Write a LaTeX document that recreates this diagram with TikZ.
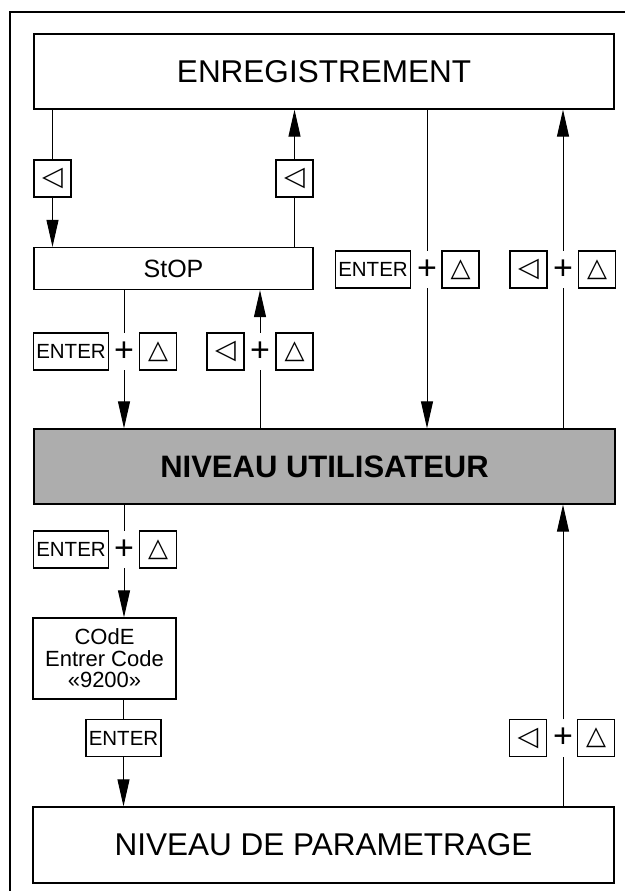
\documentclass[tikz,border=0pt]{standalone}
\usepackage{fontspec}
\setmainfont{Liberation Sans}
\newfontfamily\symfont{DejaVu Sans}
\usetikzlibrary{arrows.meta}
\begin{document}
\begin{tikzpicture}[x=1pt,y=-1pt,
  box/.style={draw, line width=1.3pt, inner sep=0pt},
  big/.style={font=\fontsize{31.5}{33}\selectfont},
  key/.style={draw, line width=1.1pt, minimum height=37pt, minimum width=37pt, inner sep=0pt},
  enterkey/.style={key, minimum width=75pt, font=\fontsize{20.5}{20}\selectfont},
  lkey/.style={key, font=\symfont\fontsize{27}{27}\selectfont},
  ukey/.style={key, font=\symfont\fontsize{26}{26}\selectfont},
  pl/.style={minimum height=37pt, minimum width=12pt, inner sep=0pt, font=\fontsize{34}{34}\selectfont},
  conn/.style={line width=1pt},
  arr/.style={conn, -{Triangle[length=27pt,width=12pt]}}]
\useasboundingbox (0,0) rectangle (625,891);
\fill[white] (0,0) rectangle (625,891);
% frame
\draw[line width=1.8pt] (10,891) -- (10,12) -- (625,12);

% main boxes
\node[box, big, minimum width=580pt, minimum height=75pt] (enr) at (324,71.5) {ENREGISTREMENT};
\node[box, fill=black!32, minimum width=581pt, minimum height=75pt,
      font=\bfseries\fontsize{31}{33}\selectfont] (nu) at (324.5,466.5) {NIVEAU UTILISATEUR};
\node[box, big, minimum width=581pt, minimum height=76pt] (ndp) at (323.5,845) {NIVEAU DE PARAMETRAGE};
\node[box, minimum width=279pt, minimum height=42pt, font=\fontsize{25}{25}\selectfont] (stop) at (173.5,268.5) {StOP};
\node[box, minimum width=143pt, minimum height=81pt, align=center,
      font=\fontsize{22}{21.5}\selectfont] (code) at (104.5,658.5) {COdE\\Entrer Code\\«9200»};

% keys between ENREGISTREMENT and StOP
\node[lkey] (kl1) at (52.5,178.5) {◁};
\node[lkey] (kl2) at (294.5,178.5) {◁};

% row 1 (right, upper)
\node[enterkey] (en1) at (373,269.5) {ENTER};
\node[pl] (p1) at (427,269.5) {+};
\node[ukey] (u1) at (460.5,269.5) {△};
\node[lkey] (l1) at (528.5,269.5) {◁};
\node[pl] (p2) at (563,269.5) {+};
\node[ukey] (u2) at (597,269.5) {△};

% row 2 (under StOP)
\node[enterkey] (en2) at (71,351.5) {ENTER};
\node[pl] (p3) at (124,351.5) {+};
\node[ukey] (u3) at (158,351.5) {△};
\node[lkey] (l3) at (225.5,351.5) {◁};
\node[pl] (p4) at (260,351.5) {+};
\node[ukey] (u4) at (294.5,351.5) {△};

% row 3 (under NIVEAU UTILISATEUR)
\node[enterkey] (en3) at (71,549.5) {ENTER};
\node[pl] (p5) at (124,549.5) {+};
\node[ukey] (u5) at (158,549.5) {△};

% ENTER under code
\node[enterkey] (en4) at (123.5,738) {ENTER};

% row 4 (right, lower)
\node[lkey] (l6) at (528,738) {◁};
\node[pl] (p6) at (563,738) {+};
\node[ukey] (u6) at (596,738) {△};

% connectors
\draw[conn] (kl1.north |- enr.south) -- (kl1.north);
\draw[arr] (kl1.south) -- (kl1.south |- stop.north);
\draw[conn] (kl2.south |- stop.north) -- (kl2.south);
\draw[arr] (kl2.north) -- (kl2.north |- enr.south);

\draw[conn] (p1.north |- enr.south) -- (p1.north);
\draw[arr] (p1.south) -- (p1.south |- nu.north);
\draw[conn] (p2.south |- nu.north) -- (p2.south);
\draw[arr] (p2.north) -- (p2.north |- enr.south);

\draw[conn] (p3.north |- stop.south) -- (p3.north);
\draw[arr] (p3.south) -- (p3.south |- nu.north);
\draw[conn] (p4.south |- nu.north) -- (p4.south);
\draw[arr] (p4.north) -- (p4.north |- stop.south);

\draw[conn] (p5.north |- nu.south) -- (p5.north);
\draw[arr] (p5.south) -- (p5.south |- code.north);

\draw[conn] (en4.north |- code.south) -- (en4.north);
\draw[arr] (en4.south) -- (en4.south |- ndp.north);

\draw[conn] (p6.south |- ndp.north) -- (p6.south);
\draw[arr] (p6.north) -- (p6.north |- nu.south);
\end{tikzpicture}
\end{document}
